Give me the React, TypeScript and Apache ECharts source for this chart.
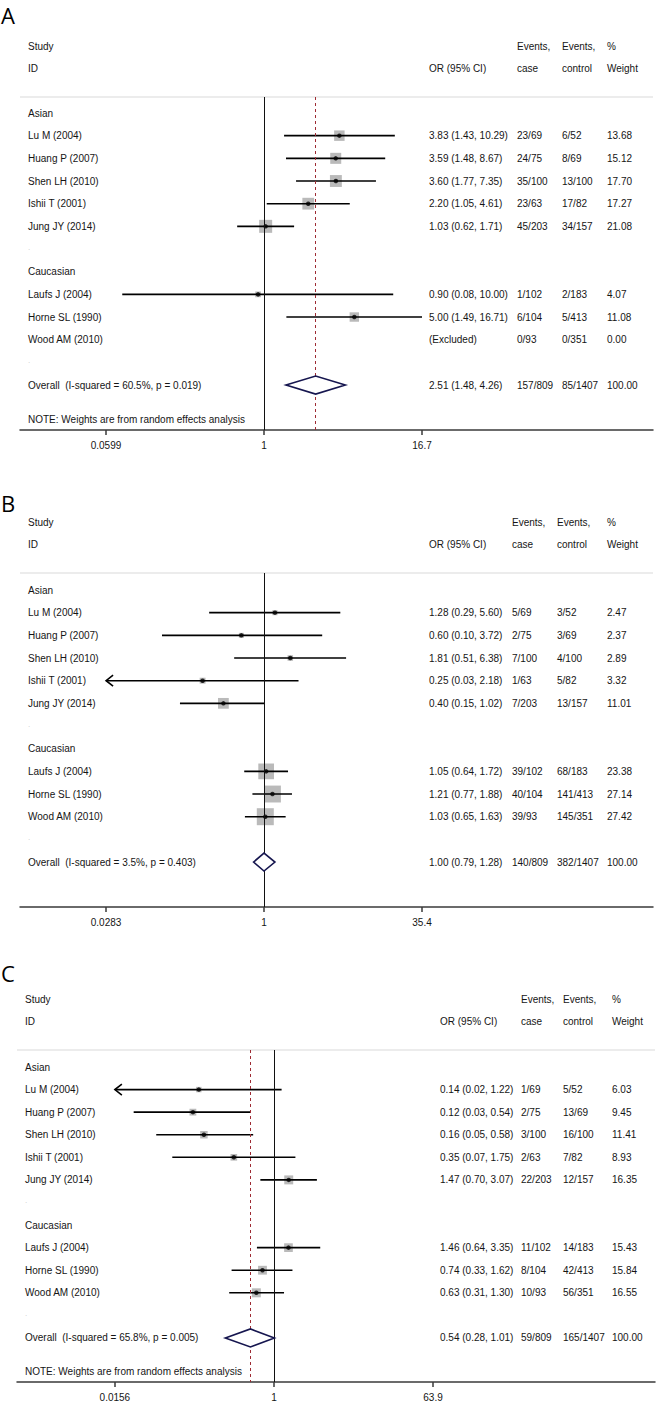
import React, { useEffect, useRef } from "react";
import * as echarts from "echarts";

const W = 659;
const H = 1407;
const FONT = "'Liberation Sans', Arial, Helvetica, sans-serif";

// ---------- shared categories ----------
const studies = [
  "Lu M (2004)",
  "Huang P (2007)",
  "Shen LH (2010)",
  "Ishii T (2001)",
  "Jung JY (2014)",
  "Laufs J (2004)",
  "Horne SL (1990)",
  "Wood AM (2010)",
];
const groupNames = ["Asian", "Caucasian"];
const groupOf = [0, 0, 0, 0, 0, 1, 1, 1];

// ---------- panel A ----------
const orA = [3.83, 3.59, 3.6, 2.2, 1.03, 0.9, 5.0, null];
const loA = [1.43, 1.48, 1.77, 1.05, 0.62, 0.08, 1.49, null];
const hiA = [10.29, 8.67, 7.35, 4.61, 1.71, 10.0, 16.71, null];
const caseA = ["23/69", "24/75", "35/100", "23/63", "45/203", "1/102", "6/104", "0/93"];
const ctrlA = ["6/52", "8/69", "13/100", "17/82", "34/157", "2/183", "5/413", "0/351"];
const weightA = [13.68, 15.12, 17.7, 17.27, 21.08, 4.07, 11.08, 0.0];
const overallA = [2.51, 1.48, 4.26];
const overallEvA = ["157/809", "85/1407"];
const hetA = ["60.5%", "0.019"];
const ticksA = [0.0599, 1, 16.7];
const tickLabelsA = ["0.0599", "1", "16.7"];

// ---------- panel B ----------
const orB = [1.28, 0.6, 1.81, 0.25, 0.4, 1.05, 1.21, 1.03];
const loB = [0.29, 0.1, 0.51, 0.027, 0.15, 0.64, 0.77, 0.65];
const hiB = [5.6, 3.72, 6.38, 2.18, 1.02, 1.72, 1.88, 1.63];
const caseB = ["5/69", "2/75", "7/100", "1/63", "7/203", "39/102", "40/104", "39/93"];
const ctrlB = ["3/52", "3/69", "4/100", "5/82", "13/157", "68/183", "141/413", "145/351"];
const weightB = [2.47, 2.37, 2.89, 3.32, 11.01, 23.38, 27.14, 27.42];
const overallB = [1.0, 0.79, 1.28];
const overallEvB = ["140/809", "382/1407"];
const hetB = ["3.5%", "0.403"];
const ticksB = [0.0283, 1, 35.4];
const tickLabelsB = ["0.0283", "1", "35.4"];

// ---------- panel C ----------
const orC = [0.14, 0.12, 0.16, 0.35, 1.47, 1.46, 0.74, 0.63];
const loC = [0.0152, 0.0255, 0.046, 0.07, 0.7, 0.64, 0.33, 0.31];
const hiC = [1.22, 0.54, 0.58, 1.75, 3.07, 3.35, 1.62, 1.3];
const caseC = ["1/69", "2/75", "3/100", "2/63", "22/203", "11/102", "8/104", "10/93"];
const ctrlC = ["5/52", "13/69", "16/100", "7/82", "12/157", "14/183", "42/413", "56/351"];
const weightC = [6.03, 9.45, 11.41, 8.93, 16.35, 15.43, 15.84, 16.55];
const overallC = [0.54, 0.28, 1.01];
const overallEvC = ["59/809", "165/1407"];
const hetC = ["65.8%", "0.005"];
const ticksC = [0.0156, 1, 63.9];
const tickLabelsC = ["0.0156", "1", "63.9"];

const panels = [
  { letter: "A", or: orA, lo: loA, hi: hiA, caseEv: caseA, ctrlEv: ctrlA, weight: weightA, overall: overallA, overallEv: overallEvA, het: hetA, ticks: ticksA, tickLabels: tickLabelsA, note: true },
  { letter: "B", or: orB, lo: loB, hi: hiB, caseEv: caseB, ctrlEv: ctrlB, weight: weightB, overall: overallB, overallEv: overallEvB, het: hetB, ticks: ticksB, tickLabels: tickLabelsB, note: false },
  { letter: "C", or: orC, lo: loC, hi: hiC, caseEv: caseC, ctrlEv: ctrlC, weight: weightC, overall: overallC, overallEv: overallEvC, het: hetC, ticks: ticksC, tickLabels: tickLabelsC, note: true },
];

// ---------- layout (pixels) ----------
const layouts = [
  { letterY: 15, sep: 97, axis: 430, firstRow: 113, step: 22.67, left: 20, right: 653, one: 264, span: 158, textX: 28, orX: 429, caseX: 517, ctrlX: 562, wX: 607, maxBox: 13 },
  { letterY: 503, sep: 573, axis: 907, firstRow: 590, step: 22.67, left: 20, right: 653, one: 264, span: 158, textX: 28, orX: 429, caseX: 512, ctrlX: 557, wX: 607, maxBox: 17 },
  { letterY: 973, sep: 1050, axis: 1382, firstRow: 1067, step: 22.58, left: 17, right: 655, one: 274, span: 159, textX: 25, orX: 440, caseX: 521, ctrlX: 563, wX: 612, maxBox: 9 },
];

function txt(text: string, x: number, y: number, extra: any = {}) {
  return {
    type: "text",
    x,
    y,
    silent: true,
    style: {
      text,
      fill: extra.fill || "#151515",
      fontSize: extra.fontSize || 10,
      fontFamily: extra.fontFamily || FONT,
      fontWeight: "normal",
      textAlign: "left",
      textVerticalAlign: "middle",
      align: "left",
      verticalAlign: "middle",
    },
  };
}

function buildOption() {
  const grids: any[] = [];
  const xAxes: any[] = [];
  const yAxes: any[] = [];
  const series: any[] = [];
  const graphics: any[] = [];

  panels.forEach((p, k) => {
    const L = layouts[k];
    const ppd = L.span / Math.log10(p.ticks[2]);
    const xMin = Math.pow(10, (L.left - L.one) / ppd);
    const xMax = Math.pow(10, (L.right - L.one) / ppd);
    const yMin = (L.sep - L.firstRow) / L.step;
    const yMax = (L.axis - L.firstRow) / L.step;
    const pxY = (row: number) => L.firstRow + row * L.step;
    const clipMin = p.ticks[0];
    const clipMax = p.ticks[2];

    grids.push({ left: L.left, top: L.sep, width: L.right - L.left, height: L.axis - L.sep, containLabel: false });
    xAxes.push({
      type: "log",
      logBase: 10,
      gridIndex: k,
      min: xMin,
      max: xMax,
      axisLine: { show: true, onZero: false, lineStyle: { color: "#3a3a3a", width: 1.5 } },
      axisTick: { show: true, customValues: p.ticks, length: 5, lineStyle: { color: "#3a3a3a", width: 1.5 } },
      axisLabel: {
        show: true,
        customValues: p.ticks,
        margin: 10,
        fontSize: 10,
        fontFamily: FONT,
        color: "#151515",
        formatter: (v: number) => {
          let best = 0;
          p.ticks.forEach((t, i) => {
            if (Math.abs(Math.log(t) - Math.log(v)) < Math.abs(Math.log(p.ticks[best]) - Math.log(v))) best = i;
          });
          return p.tickLabels[best];
        },
      },
      splitLine: { show: false },
      minorTick: { show: false },
    });
    yAxes.push({ type: "value", gridIndex: k, inverse: true, min: yMin, max: yMax, show: false, splitLine: { show: false } });

    // rows
    const rowOf: number[] = [];
    let r = 0;
    groupNames.forEach((g, gi) => {
      graphics.push(txt(g, L.textX, pxY(r)));
      r++;
      studies.forEach((s, i) => {
        if (groupOf[i] === gi) {
          rowOf[i] = r;
          r++;
        }
      });
      graphics.push(txt(".", L.textX, pxY(r) - 2, { fill: "#c8c8c8", fontSize: 8 }));
      r++;
    });
    const overallRow = r;

    // letter and headers
    graphics.push(txt(p.letter, 1, L.letterY, { fontSize: 22, fontFamily: "'Open Sans', 'DejaVu Sans', sans-serif", fill: "#000" }));
    const h1 = L.sep - 51;
    const h2 = L.sep - 29;
    graphics.push(txt("Study", L.textX, h1));
    graphics.push(txt("ID", L.textX, h2));
    graphics.push(txt("OR (95% CI)", L.orX, h2));
    graphics.push(txt("Events,", L.caseX, h1));
    graphics.push(txt("case", L.caseX, h2));
    graphics.push(txt("Events,", L.ctrlX, h1));
    graphics.push(txt("control", L.ctrlX, h2));
    graphics.push(txt("%", L.wX, h1));
    graphics.push(txt("Weight", L.wX, h2));
    graphics.push({
      type: "line",
      silent: true,
      shape: { x1: L.left, y1: L.sep, x2: L.right, y2: L.sep },
      style: { stroke: "#d9d9d9", lineWidth: 1 },
    });

    // study rows text
    const maxW = Math.max(...p.weight);
    const boxData: any[] = [];
    const dotData: any[] = [];
    const ciData: any[] = [];
    studies.forEach((s, i) => {
      const y = pxY(rowOf[i]);
      graphics.push(txt(s, L.textX, y));
      const o = p.or[i];
      const lo = p.lo[i];
      const hi = p.hi[i];
      const orText = o == null ? "(Excluded)" : `${o.toFixed(2)} (${(lo as number).toFixed(2)}, ${(hi as number).toFixed(2)})`;
      graphics.push(txt(orText, L.orX, y));
      graphics.push(txt(p.caseEv[i], L.caseX, y));
      graphics.push(txt(p.ctrlEv[i], L.ctrlX, y));
      graphics.push(txt(p.weight[i].toFixed(2), L.wX, y));
      if (o != null) {
        boxData.push({ value: [o, rowOf[i]], symbolSize: L.maxBox * Math.sqrt(p.weight[i] / maxW) });
        dotData.push([o, rowOf[i]]);
        ciData.push([o, rowOf[i], lo, hi]);
      }
    });

    // overall text
    const oy = pxY(overallRow);
    graphics.push(txt(`Overall  (I-squared = ${p.het[0]}, p = ${p.het[1]})`, L.textX, oy));
    graphics.push(txt(`${p.overall[0].toFixed(2)} (${p.overall[1].toFixed(2)}, ${p.overall[2].toFixed(2)})`, L.orX, oy));
    graphics.push(txt(p.overallEv[0], L.caseX, oy));
    graphics.push(txt(p.overallEv[1], L.ctrlX, oy));
    graphics.push(txt("100.00", L.wX, oy));
    if (p.note) {
      graphics.push(txt("NOTE: Weights are from random effects analysis", L.textX, pxY(overallRow + 1.5)));
    }

    // reference lines + boxes
    series.push({
      type: "scatter",
      xAxisIndex: k,
      yAxisIndex: k,
      symbol: "rect",
      data: boxData,
      itemStyle: { color: "#a9a9a9" },
      z: 2,
      silent: true,
      markLine: {
        silent: true,
        symbol: ["none", "none"],
        label: { show: false },
        animation: false,
        data: [
          { xAxis: p.overall[0], lineStyle: { color: "#9e2b33", type: [3, 3], width: 1 } },
          { xAxis: 1, lineStyle: { color: "#111", type: "solid", width: 1 } },
        ],
      },
    });

    // CI lines with arrows when clipped
    series.push({
      type: "custom",
      xAxisIndex: k,
      yAxisIndex: k,
      data: ciData,
      encode: { x: 0, y: 1 },
      clip: false,
      silent: true,
      z: 3,
      renderItem: (params: any, api: any) => {
        const row = api.value(1);
        const lo = api.value(2);
        const hi = api.value(3);
        const loV = Math.max(lo, clipMin);
        const hiV = Math.min(hi, clipMax);
        const a = api.coord([loV, row]);
        const b = api.coord([hiV, row]);
        const y = a[1];
        const children: any[] = [
          { type: "line", shape: { x1: a[0], y1: y, x2: b[0], y2: y }, style: { stroke: "#000", lineWidth: 1.6 } },
        ];
        if (lo < clipMin * 0.99) {
          children.push({
            type: "polyline",
            shape: { points: [[a[0] + 7, y - 5.5], [a[0], y], [a[0] + 7, y + 5.5]] },
            style: { stroke: "#000", lineWidth: 1.6, fill: "none" },
          });
        }
        if (hi > clipMax * 1.01) {
          children.push({
            type: "polyline",
            shape: { points: [[b[0] - 7, y - 5.5], [b[0], y], [b[0] - 7, y + 5.5]] },
            style: { stroke: "#000", lineWidth: 1.6, fill: "none" },
          });
        }
        return { type: "group", children };
      },
    });

    // dots
    series.push({
      type: "scatter",
      xAxisIndex: k,
      yAxisIndex: k,
      symbol: "circle",
      symbolSize: 4.5,
      data: dotData,
      itemStyle: { color: "#000" },
      z: 4,
      silent: true,
    });

    // overall diamond
    series.push({
      type: "custom",
      xAxisIndex: k,
      yAxisIndex: k,
      data: [[p.overall[0], overallRow, p.overall[1], p.overall[2]]],
      encode: { x: 0, y: 1 },
      clip: false,
      silent: true,
      z: 5,
      renderItem: (params: any, api: any) => {
        const row = api.value(1);
        const c = api.coord([api.value(0), row]);
        const l = api.coord([api.value(2), row]);
        const rr = api.coord([api.value(3), row]);
        const hh = 9;
        return {
          type: "polygon",
          shape: { points: [[l[0], c[1]], [c[0], c[1] - hh], [rr[0], c[1]], [c[0], c[1] + hh]] },
          style: { fill: "#fff", stroke: "#16164f", lineWidth: 1.6 },
        };
      },
    });
  });

  return {
    animation: false,
    backgroundColor: "#fff",
    grid: grids,
    xAxis: xAxes,
    yAxis: yAxes,
    series,
    graphic: { elements: graphics },
  };
}

export default function App() {
  const ref = useRef<HTMLDivElement>(null);
  useEffect(() => {
    const chart = echarts.init(ref.current as HTMLDivElement, null, { renderer: "svg", width: W, height: H });
    chart.setOption(buildOption() as any);
    return () => chart.dispose();
  }, []);
  return (
    <div
      ref={ref}
      style={{ position: "absolute", left: 0, top: 0, width: W, height: H, background: "#fff" }}
    />
  );
}
